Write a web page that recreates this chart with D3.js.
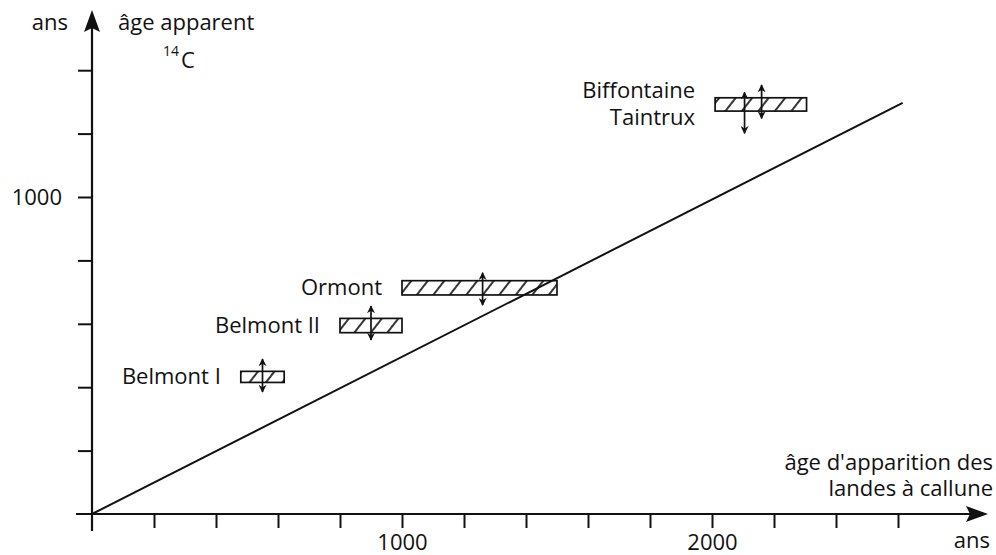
<!DOCTYPE html>
<html>
<head>
<meta charset="utf-8">
<script src="https://cdn.jsdelivr.net/npm/d3@7"></script>
<style>
  body { margin: 0; background: #fff; }
  svg text { font-family: "Open Sans", sans-serif; fill: #111; }
</style>
</head>
<body>
<div id="chart"></div>
<script>
// sites (boxes = range of heathland appearance age vs apparent 14C age)
var siteNames = [["Belmont I"], ["Belmont II"], ["Ormont"], ["Biffontaine", "Taintrux"]];
var boxXMin = [480, 800, 1000, 2010];
var boxXMax = [620, 1000, 1500, 2305];
var boxYMin = [415, 572, 691, 1271];
var boxYMax = [450, 617, 736, 1313];

// vertical error arrows
var arrowX  = [550, 900, 1260, 2105, 2160];
var arrowLo = [385, 549, 659, 1201, 1248];
var arrowHi = [489, 656, 761, 1330, 1353];

// reference line
var lineX = [0, 2615];
var lineY = [0, 1297];

var xTicks = [200, 400, 600, 800, 1000, 1200, 1400, 1600, 1800, 2000, 2200, 2400, 2600];
var yTicks = [200, 400, 600, 800, 1000, 1200, 1400];
var xLabels = [1000, 2000];
var yLabels = [1000];

var width = 996, height = 555;

var svg = d3.select("#chart").append("svg")
    .attr("width", width)
    .attr("height", height);

var x = d3.scaleLinear().domain([0, 1000]).range([92, 402]);
var y = d3.scaleLinear().domain([0, 1000]).range([514, 197]);

var defs = svg.append("defs");

defs.append("pattern")
    .attr("id", "hatch")
    .attr("patternUnits", "userSpaceOnUse")
    .attr("width", 13)
    .attr("height", 13)
    .attr("patternTransform", "rotate(38)")
    .append("line")
    .attr("x1", 3).attr("y1", 0)
    .attr("x2", 3).attr("y2", 13)
    .attr("stroke", "#111")
    .attr("stroke-width", 1.7);

defs.append("marker")
    .attr("id", "head")
    .attr("viewBox", "0 0 10 10")
    .attr("refX", 9)
    .attr("refY", 5)
    .attr("markerUnits", "userSpaceOnUse")
    .attr("markerWidth", 8)
    .attr("markerHeight", 8)
    .attr("orient", "auto-start-reverse")
    .append("path")
    .attr("d", "M0,0 L10,5 L0,10 L3,5 Z")
    .attr("fill", "#111");

// axes
var xAxis = svg.append("g")
    .attr("transform", "translate(0," + y(0) + ")")
    .call(d3.axisBottom(x).tickValues(xTicks).tickSize(14)
        .tickFormat(function (d) { return xLabels.indexOf(d) >= 0 ? d : ""; }));

var yAxis = svg.append("g")
    .attr("transform", "translate(" + x(0) + ",0)")
    .call(d3.axisLeft(y).tickValues(yTicks).tickSize(14)
        .tickFormat(function (d) { return yLabels.indexOf(d) >= 0 ? d : ""; }));

[xAxis, yAxis].forEach(function (a) {
    a.select(".domain").remove();
    a.selectAll(".tick line").attr("stroke", "#111").attr("stroke-width", 2);
    a.selectAll(".tick text").style("font-size", "22px").attr("fill", "#111");
});
xAxis.selectAll(".tick text").attr("y", 36).attr("dy", 0);
yAxis.selectAll(".tick text").attr("x", -30).attr("dy", "0.35em");

// axis lines with arrows
svg.append("line")
    .attr("x1", 76).attr("y1", y(0))
    .attr("x2", 972).attr("y2", y(0))
    .attr("stroke", "#111").attr("stroke-width", 2.2);
svg.append("path")
    .attr("d", "M988," + y(0) + " L966," + (y(0) - 8) + " L970," + y(0) + " L966," + (y(0) + 8) + " Z")
    .attr("fill", "#111");

svg.append("line")
    .attr("x1", x(0)).attr("y1", 531)
    .attr("x2", x(0)).attr("y2", 26)
    .attr("stroke", "#111").attr("stroke-width", 2.2);
svg.append("path")
    .attr("d", "M" + x(0) + ",10 L" + (x(0) - 8) + ",32 L" + x(0) + ",28 L" + (x(0) + 8) + ",32 Z")
    .attr("fill", "#111");

// axis titles
svg.append("text").attr("x", 68).attr("y", 30).attr("text-anchor", "end")
    .style("font-size", "22px").text("ans");
svg.append("text").attr("x", 118).attr("y", 30)
    .style("font-size", "22px").text("âge apparent");
var c14 = svg.append("text").attr("x", 163).attr("y", 68).style("font-size", "22px");
c14.append("tspan").attr("dy", -12).style("font-size", "14px").text("14");
c14.append("tspan").attr("dy", 12).attr("dx", 2).text("C");

svg.append("text").attr("x", 993).attr("y", 470).attr("text-anchor", "end")
    .style("font-size", "22px").text("âge d'apparition des");
svg.append("text").attr("x", 993).attr("y", 496).attr("text-anchor", "end")
    .style("font-size", "22px").text("landes à callune");
svg.append("text").attr("x", 990).attr("y", 548).attr("text-anchor", "end")
    .style("font-size", "22px").text("ans");

// reference line
svg.append("path")
    .attr("d", d3.line()
        .x(function (d, i) { return x(lineX[i]); })
        .y(function (d, i) { return y(lineY[i]); })(lineX))
    .attr("fill", "none")
    .attr("stroke", "#111")
    .attr("stroke-width", 2);

// hatched boxes
svg.selectAll("rect.site")
    .data(siteNames)
    .enter()
    .append("rect")
    .attr("class", "site")
    .attr("x", function (d, i) { return x(boxXMin[i]); })
    .attr("y", function (d, i) { return y(boxYMax[i]); })
    .attr("width", function (d, i) { return x(boxXMax[i]) - x(boxXMin[i]); })
    .attr("height", function (d, i) { return y(boxYMin[i]) - y(boxYMax[i]); })
    .attr("fill", "url(#hatch)")
    .attr("stroke", "#111")
    .attr("stroke-width", 1.7);

// site labels
svg.selectAll("text.site")
    .data(siteNames)
    .enter()
    .append("text")
    .attr("class", "site")
    .attr("text-anchor", "end")
    .style("font-size", "22px")
    .each(function (d, i) {
        var cy = (y(boxYMin[i]) + y(boxYMax[i])) / 2;
        var t = d3.select(this);
        d.forEach(function (s, j) {
            t.append("tspan")
                .attr("x", x(boxXMin[i]) - 20)
                .attr("y", cy + 7 + (j - (d.length - 1) / 2) * 27)
                .text(s);
        });
    });

// error arrows
svg.selectAll("line.err")
    .data(arrowX)
    .enter()
    .append("line")
    .attr("class", "err")
    .attr("x1", function (d) { return x(d); })
    .attr("x2", function (d) { return x(d); })
    .attr("y1", function (d, i) { return y(arrowLo[i]); })
    .attr("y2", function (d, i) { return y(arrowHi[i]); })
    .attr("stroke", "#111")
    .attr("stroke-width", 1.7)
    .attr("marker-start", "url(#head)")
    .attr("marker-end", "url(#head)");
</script>
</body>
</html>
